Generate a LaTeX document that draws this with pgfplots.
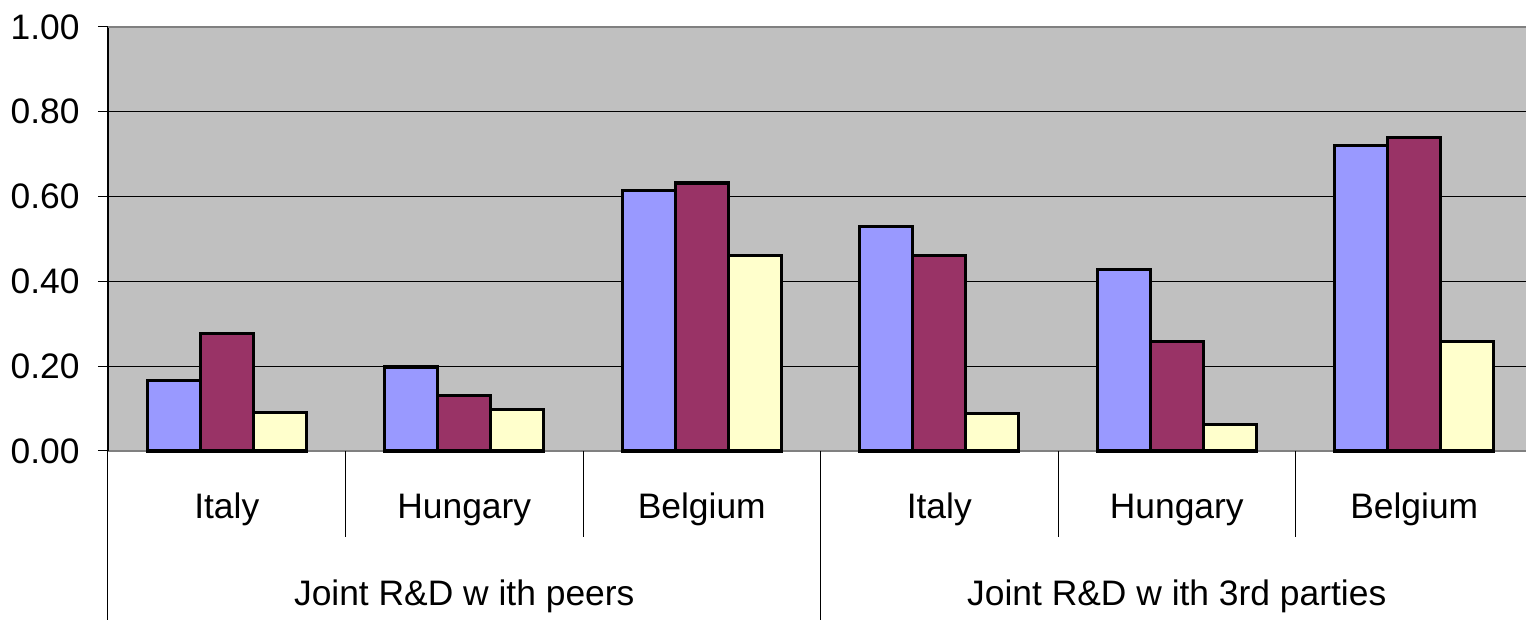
\documentclass[border=0pt]{standalone}
\usepackage{fontspec}
\setmainfont{Liberation Sans}
\usepackage{pgfplots}
\pgfplotsset{compat=1.18}
\usetikzlibrary{calc}

\definecolor{barblue}{HTML}{9999FF}
\definecolor{barplum}{HTML}{993366}
\definecolor{barcream}{HTML}{FFFFCC}
\definecolor{plotgray}{HTML}{C0C0C0}
\definecolor{framegray}{HTML}{808080}

\begin{document}
\begin{tikzpicture}[font=\fontsize{17.7pt}{21pt}\selectfont]
\begin{axis}[
  name=ax, at={(0,0)}, anchor=south west,
  scale only axis, width=712.5pt, height=212pt,
  xmin=-0.5, xmax=5.5, ymin=0, ymax=1,
  axis background/.style={fill=plotgray},
  axis x line*=bottom, axis y line*=left,
  x axis line style={draw=framegray, line width=1pt},
  y axis line style={draw=black, line width=0.6pt},
  ybar=0pt, bar width=26.5pt,
  xtick=\empty,
  ytick={0,0.2,...,1.0},
  ytick align=outside, major tick length=5pt,
  ytick style={black, line width=0.5pt},
  yticklabel style={
    /pgf/number format/fixed,
    /pgf/number format/fixed zerofill,
    /pgf/number format/precision=2,
    /pgf/number format/assume math mode=true,
    anchor=east, inner sep=0pt, xshift=-9pt},
  ymajorgrids,
  major grid style={black, line width=0.5pt},
  clip=false,
]
\addplot[fill=barblue, draw=black, line width=1.6pt]
  coordinates {(0,0.167) (1,0.198) (2,0.614) (3,0.530) (4,0.428) (5,0.720)};
\addplot[fill=barplum, draw=black, line width=1.6pt]
  coordinates {(0,0.277) (1,0.130) (2,0.632) (3,0.462) (4,0.258) (5,0.739)};
\addplot[fill=barcream, draw=black, line width=1.6pt]
  coordinates {(0,0.090) (1,0.097) (2,0.462) (3,0.089) (4,0.062) (5,0.258)};
\end{axis}

% top frame of the plot area
\draw[framegray, line width=1pt] (ax.north west) -- (ax.north east);

% category separators below the axis
\foreach \i in {1,2,4,5}
  \draw[black, line width=0.5pt] ($(ax.south west)+(\i*118.75pt,0)$) -- ++(0,-43pt);
\foreach \i in {0,3}
  \draw[black, line width=0.5pt] ($(ax.south west)+(\i*118.75pt,0)$) -- ++(0,-84.5pt);

% country labels
\foreach \n [count=\k from 0] in {Italy,Hungary,Belgium,Italy,Hungary,Belgium}
  \node[anchor=base, inner sep=0pt] at ($(ax.south west)+(\k*118.75pt+59.375pt,-34pt)$) {\n};

% group labels
\node[anchor=base, inner sep=0pt] at ($(ax.south west)+(178.125pt,-77.5pt)$) {Joint R\&D w ith peers};
\node[anchor=base, inner sep=0pt] at ($(ax.south west)+(534.375pt,-77.5pt)$) {Joint R\&D w ith 3rd parties};

\pgfresetboundingbox
\path[use as bounding box] ($(ax.south west)+(-54pt,-84.5pt)$) rectangle ($(ax.south west)+(709pt,225.5pt)$);
\end{tikzpicture}
\end{document}
